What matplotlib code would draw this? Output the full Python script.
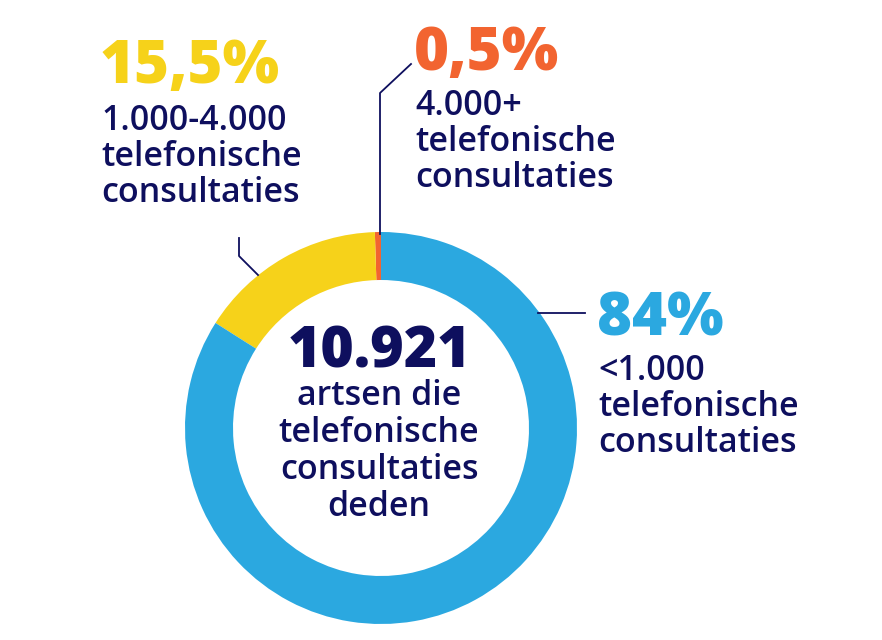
import matplotlib.pyplot as plt

# Data read from the infographic
labels = ["4.000+", "1.000-4.000", "<1.000"]
shares = [0.5, 15.5, 84.0]
share_texts = ["0,5%", "15,5%", "84%"]
colors = ["#F26430", "#F6D21A", "#2BA8E0"]
navy = "#0E0F5E"

total_text = "10.921"
total_lines = ["artsen die", "telefonische", "consultaties", "deden"]

W, H = 882, 640
fig = plt.figure(figsize=(W / 100, H / 100), dpi=100)
ax = fig.add_axes([0, 0, 1, 1])
ax.set_xlim(0, W)
ax.set_ylim(0, H)
ax.axis("off")

def Y(y):
    # image row -> axes y
    return H - y

cx, cy, r = 381, Y(428), 196
ax.pie(shares, colors=colors, startangle=90, counterclock=True,
       center=(cx, cy), radius=r, wedgeprops=dict(width=48, linewidth=0))
ax.set_xlim(0, W)
ax.set_ylim(0, H)
ax.set_aspect("equal")

num_font = dict(family="Open Sans", weight=800, fontsize=43)
body_font = dict(family="Open Sans", weight=600, fontsize=24.5, color=navy)

# leader lines
ax.plot([411, 380, 380], [Y(64), Y(93), Y(234)], color=navy, lw=1.3)
ax.plot([239, 239, 258], [Y(238), Y(256), Y(275)], color=navy, lw=1.3)
ax.plot([538, 585], [Y(313), Y(313)], color=navy, lw=1.3)

# labels
blocks = [
    (414, 70, 115),   # 4.000+
    (100, 83, 130),   # 1.000-4.000
    (597, 335, 380),  # <1.000
]
for (x, ybig, ytxt), lab, pct, col in zip(blocks, labels, share_texts, colors):
    ax.text(x, Y(ybig), pct, color=col, ha="left", va="baseline", **num_font)
    for i, line in enumerate([lab, "telefonische", "consultaties"]):
        ax.text(x + 1, Y(ytxt + i * 36), line, ha="left", va="baseline", **body_font)

ax.text(cx - 2, Y(367), total_text, color=navy, ha="center", va="baseline",
        family="Open Sans", weight=800, fontsize=41)
for i, line in enumerate(total_lines):
    ax.text(cx - 2, Y(405 + i * 37), line, ha="center", va="baseline", **body_font)

fig.savefig("out.png", dpi=100)
